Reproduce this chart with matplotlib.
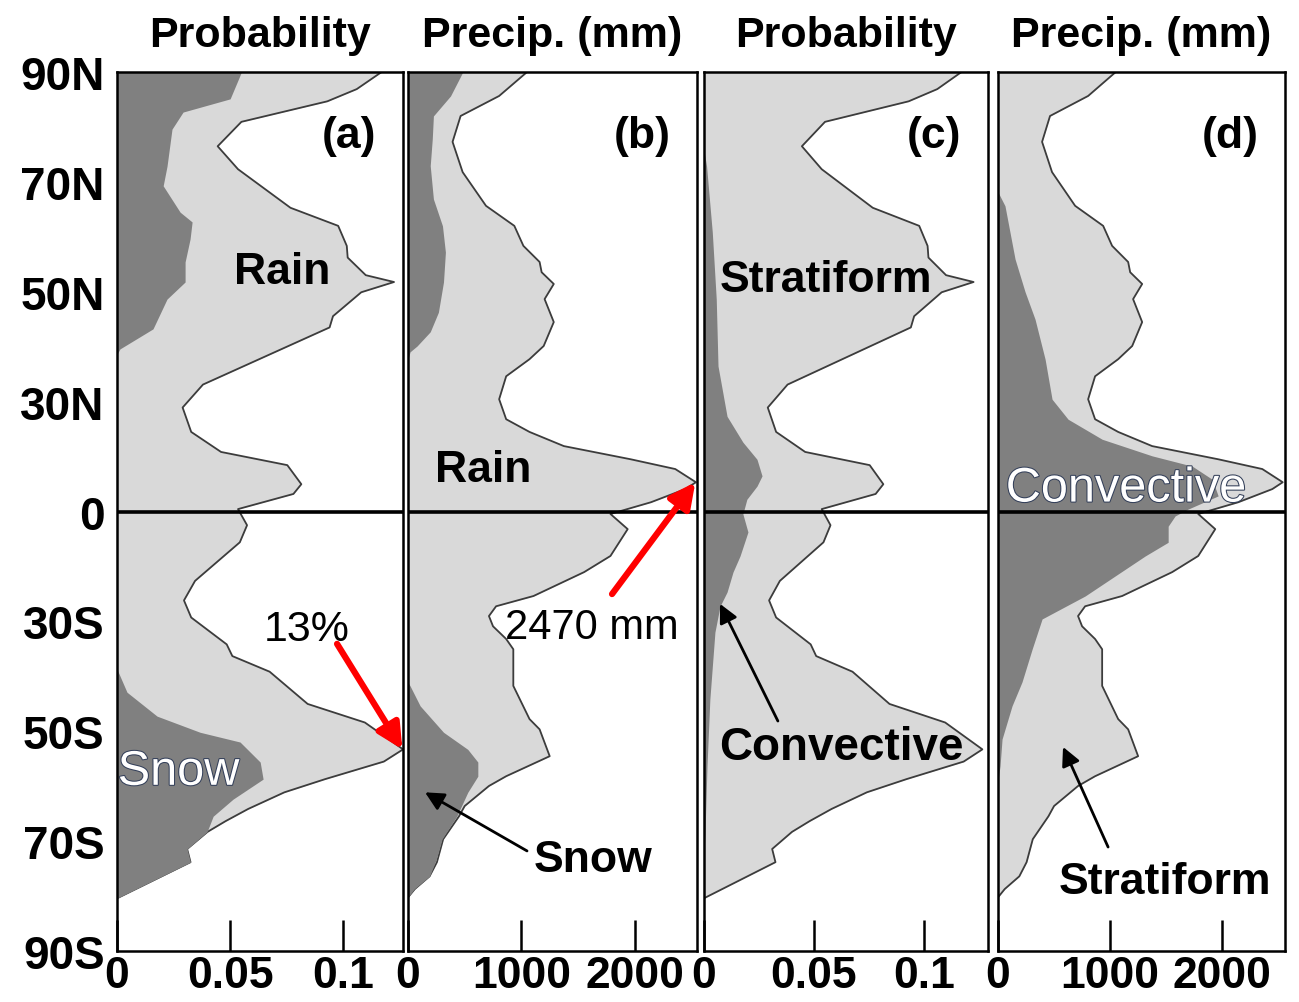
import matplotlib
matplotlib.use("Agg")
import matplotlib.pyplot as plt
import matplotlib.patheffects as pe

plt.rcParams['font.family'] = ['Liberation Sans', 'DejaVu Sans']
plt.rcParams['font.weight'] = 'bold'

# latitude ticks (evenly spaced, labelled as in the original)
lat_ticks = [90, 67.5, 45, 22.5, 0, -22.5, -45, -67.5, -90]
lat_labels = ['90N', '70N', '50N', '30N', '0', '30S', '50S', '70S', '90S']

# total precipitation probability (panels a, c)
prob_total_lat = [90, 86.5, 84.0, 79.8, 74.8, 70.1, 62.2, 58.5, 54.4, 52.0, 48.4, 47.0, 44.9,
                  40.0, 37.7, 26.0, 21.3, 16.3, 12.2, 9.5, 5.6, 3.6, 0.5, -2.8, -6.3, -14.2,
                  -18.2, -21.7, -27.2, -29.6, -32.8, -39.4, -43.2, -48.7, -51.2, -54.8, -57.5,
                  -60.9, -63.4, -65.6, -69.1, -71.8, -79.2, -90]
prob_total = [0.117, 0.106, 0.093, 0.055, 0.0445, 0.0535, 0.0767, 0.0978, 0.1016, 0.102, 0.110,
              0.1225, 0.108, 0.0955, 0.094, 0.038, 0.029, 0.0328, 0.046, 0.0753, 0.0815, 0.078,
              0.0535, 0.0575, 0.0543, 0.0345, 0.0296, 0.0328, 0.0485, 0.051, 0.0675, 0.0843,
              0.1096, 0.1265, 0.118, 0.092, 0.074, 0.058, 0.048, 0.040, 0.031, 0.0325, 0.0, 0.0]

# snow probability (panel a)
snow_prob_lat = [90, 84.5, 81.8, 78.3, 70.7, 66.7, 61.3, 59.3, 55.8, 51.1, 47.0, 43.5, 37.4,
                 33.3, 32.2, -32.3, -37.0, -41.9, -45.2, -47.2, -51.3, -54.8, -58.9, -62.4,
                 -65.6, -69.1, -71.8, -79.2, -90]
snow_prob = [0.055, 0.050, 0.0292, 0.0243, 0.0221, 0.0204, 0.0279, 0.0332, 0.0323, 0.0301,
             0.0301, 0.0221, 0.0159, 0.0013, 0, 0, 0.0044, 0.0177, 0.0367, 0.0544, 0.0633,
             0.0646, 0.0513, 0.0425, 0.0398, 0.031, 0.0325, 0, 0]

# convective probability (panel c)
conv_prob_lat = [90, 74.0, 70.7, 57.2, 43.5, 29.8, 19.5, 14.2, 10.7, 7.3, 5.2, 2.5, -0.5, -4.2,
                 -9.1, -12.4, -16.5, -19.4, -24.7, -38.4, -52.1, -65.6, -70, -90]
conv_prob = [0, 0, 0.0012, 0.0038, 0.0056, 0.0064, 0.0105, 0.0177, 0.0241, 0.0264, 0.0241,
             0.0195, 0.0177, 0.020, 0.0164, 0.0132, 0.0105, 0.0073, 0.005, 0.0027, 0.0014,
             0.0005, 0, 0]

# total precipitation amount, mm (panels b, d)
precip_total_lat = [90, 85.1, 81.0, 75.7, 69.5, 62.6, 58.5, 54.4, 51.1, 49.0, 46.6, 43.5, 38.8,
                    33.9, 31.2, 27.7, 23.0, 18.9, 16.3, 13.4, 10.7, 8.7, 6.0, 4.6, 1.9, -0.5,
                    -3.6, -9.1, -12.4, -17.3, -19.4, -21.4, -23.5, -26.1, -28.2, -35.7, -42.5,
                    -44.6, -50.1, -54.2, -56.2, -60.3, -62.4, -67.1, -71.8, -74.7, -77.3, -79.0, -90]
precip_total = [1050, 804, 464, 393, 482, 688, 938, 1018, 1161, 1179, 1286, 1205, 1286, 1197,
                1072, 866, 804, 866, 1072, 1375, 1965, 2358, 2540, 2447, 2143, 1786, 1938, 1786,
                1554, 1107, 777, 714, 750, 866, 929, 929, 1072, 1161, 1250, 866, 714, 500, 450,
                310, 255, 190, 60, 0, 0]

# snow amount (panel b)
snow_precip_lat = [90, 85.1, 81.0, 76.3, 70.8, 64.0, 58.5, 53.1, 47.0, 40.8, 36.8, 33.9, 32.7,
                   31.2, -35.0, -35.7, -39.8, -45.2, -48.7, -51.3, -54.2, -57.5, -62.4, -67.1,
                   -71.2, -74.7, -77.3, -79.0, -90]
snow_precip = [483, 375, 224, 214, 196, 224, 304, 330, 313, 268, 196, 80, 18, 0, 0, 18, 107,
               313, 527, 616, 616, 527, 430, 300, 250, 190, 55, 0, 0]

# convective amount (panel d)
conv_precip_lat = [90, 65.4, 62.6, 51.7, 45.0, 39.4, 31.2, 23.0, 18.9, 14.8, 11.4, 9.3, 6.6,
                   3.2, 0.5, -0.9, -3.0, -6.3, -9.1, -17.3, -22.0, -28.2, -34.9, -39.8, -46.6,
                   -52.1, -55, -90]
conv_precip = [0, 0, 62, 152, 241, 330, 420, 482, 625, 929, 1375, 1732, 1911, 1964, 1696, 1580,
               1518, 1518, 1313, 777, 393, 304, 214, 125, 36, 18, 0, 0]

LIGHT = '#d9d9d9'
DARK = '#808080'
EDGE = '#3c3c3c'

fig = plt.figure(figsize=(12.99, 10.03), dpi=100)
bottom, height = 0.0508, 0.8764
lefts = [0.0901, 0.3141, 0.5419, 0.7683]
widths = [0.2202, 0.2225, 0.2186, 0.2209]

panels = [
    ('Probability', prob_total_lat, prob_total, snow_prob_lat, snow_prob, 0.1265, [0, 0.05, 0.1], ['0', '0.05', '0.1'], '(a)'),
    ('Precip. (mm)', precip_total_lat, precip_total, snow_precip_lat, snow_precip, 2550, [0, 1000, 2000], ['0', '1000', '2000'], '(b)'),
    ('Probability', prob_total_lat, prob_total, conv_prob_lat, conv_prob, 0.129, [0, 0.05, 0.1], ['0', '0.05', '0.1'], '(c)'),
    ('Precip. (mm)', precip_total_lat, precip_total, conv_precip_lat, conv_precip, 2560, [0, 1000, 2000], ['0', '1000', '2000'], '(d)'),
]

axes = []
for i, (title, tlat, tval, clat, cval, xmax, xt, xtl, tag) in enumerate(panels):
    ax = fig.add_axes([lefts[i], bottom, widths[i], height])
    ax.fill_betweenx(tlat, 0, tval, color=LIGHT, lw=0, zorder=1)
    ax.plot(tval, tlat, color=EDGE, lw=1.3, zorder=2)
    ax.fill_betweenx(clat, 0, cval, color=DARK, lw=0, zorder=3)
    ax.axhline(0, color='black', lw=2.6, zorder=5)
    ax.set_xlim(0, xmax)
    ax.set_ylim(-90, 90)
    ax.set_xticks(xt)
    ax.set_xticklabels(xtl)
    ax.set_yticks(lat_ticks)
    ax.set_yticklabels(lat_labels)
    ax.tick_params(axis='x', direction='in', length=22, width=1.8, pad=3, labelsize=32)
    ax.tick_params(axis='y', length=0, pad=9, labelsize=33, labelleft=(i == 0))
    for s in ax.spines.values():
        s.set_linewidth(1.8)
        s.set_zorder(6)
    ax.set_title(title, fontsize=31, fontweight='bold', pad=19)
    ax.text(0.81 * xmax, 77, tag, fontsize=32, fontweight='bold', ha='center', va='center', zorder=7)
    axes.append(ax)

ax_a, ax_b, ax_c, ax_d = axes
white_fx = [pe.withStroke(linewidth=1.5, foreground='#34405a')]
red_arrow = dict(arrowstyle='-|>', color='red', lw=4.5, mutation_scale=38, shrinkA=0, shrinkB=0)
black_arrow = dict(arrowstyle='-|>', color='black', lw=2, mutation_scale=28, shrinkA=0, shrinkB=0)

# panel a
ax_a.text(0.073, 49.2, 'Rain', fontsize=32, fontweight='bold', ha='center', va='center', zorder=7)
ax_a.text(0.0003, -53.4, 'Snow', fontsize=35, fontweight='normal', color='white',
          ha='left', va='center', zorder=7, path_effects=white_fx)
ax_a.text(0.084, -24.1, '13%', fontsize=31, fontweight='normal', ha='center', va='center', zorder=7)
ax_a.annotate('', xy=(0.1262, -48.7), xytext=(0.0973, -27.1), arrowprops=red_arrow,
              zorder=8, annotation_clip=False)

# panel b
ax_b.text(662, 8.7, 'Rain', fontsize=32, fontweight='bold', ha='center', va='center', zorder=7)
ax_b.text(1623, -23.7, '2470 mm', fontsize=30, fontweight='normal', ha='center', va='center', zorder=7)
ax_b.annotate('', xy=(2535, 6.0), xytext=(1800, -16.9), arrowprops=red_arrow,
              zorder=8, annotation_clip=False)
ax_b.text(1632, -71.2, 'Snow', fontsize=32, fontweight='bold', ha='center', va='center', zorder=7)
ax_b.annotate('', xy=(150, -57.5), xytext=(1050, -69.5), arrowprops=black_arrow, zorder=8)

# panel c
ax_c.text(0.0555, 47.6, 'Stratiform', fontsize=32, fontweight='bold', ha='center', va='center', zorder=7)
ax_c.text(0.0623, -48.2, 'Convective', fontsize=33, fontweight='bold', ha='center', va='center', zorder=7)
ax_c.annotate('', xy=(0.0073, -18.9), xytext=(0.0336, -42.9), arrowprops=black_arrow, zorder=8)

# panel d
ax_d.text(1143, 4.6, 'Convective', fontsize=35, fontweight='normal', color='white',
          ha='center', va='center', zorder=7, path_effects=white_fx)
ax_d.text(1491, -75.7, 'Stratiform', fontsize=32, fontweight='bold', ha='center', va='center', zorder=7)
ax_d.annotate('', xy=(580, -48.2), xytext=(982, -68.7), arrowprops=black_arrow, zorder=8)

fig.savefig('out.png', dpi=100)
